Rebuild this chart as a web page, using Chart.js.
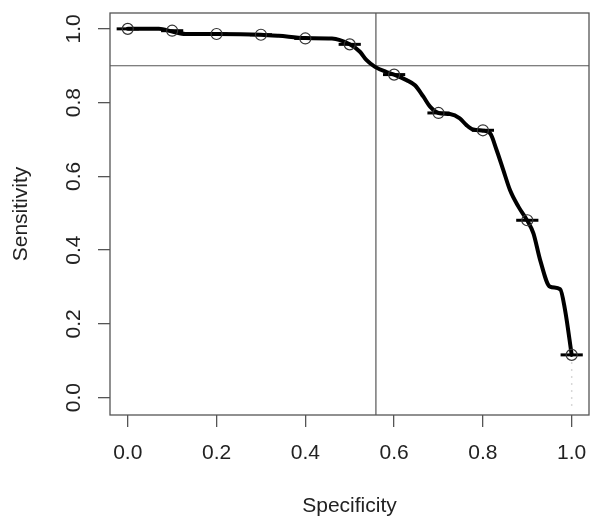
<!DOCTYPE html>
<html>
<head>
<meta charset="utf-8">
<script src="https://cdn.jsdelivr.net/npm/chart.js@4/dist/chart.umd.min.js"></script>
<style>
  html, body { margin: 0; padding: 0; background: #ffffff; }
  #wrap { width: 601px; height: 525px; }
</style>
</head>
<body>
<div id="wrap"><canvas id="c" width="601" height="525"></canvas></div>
<script>
// ---- data ----
const curveSpec = [0, 0.07, 0.10, 0.13, 0.20, 0.30, 0.34, 0.40, 0.46, 0.50, 0.523, 0.538, 0.557, 0.583, 0.60, 0.628, 0.647, 0.666, 0.681, 0.70, 0.726, 0.748, 0.763, 0.778, 0.80, 0.816, 0.831, 0.846, 0.861, 0.88, 0.90, 0.914, 0.929, 0.951, 0.974, 0.985, 1.0];
const curveSens = [1.0, 1.0, 0.993, 0.986, 0.986, 0.984, 0.981, 0.975, 0.974, 0.958, 0.938, 0.915, 0.897, 0.883, 0.876, 0.861, 0.847, 0.816, 0.789, 0.772, 0.769, 0.757, 0.739, 0.727, 0.724, 0.717, 0.671, 0.617, 0.563, 0.518, 0.480, 0.445, 0.373, 0.301, 0.294, 0.238, 0.116];

const pointSpec = [0.0, 0.1, 0.2, 0.3, 0.4, 0.5, 0.6, 0.7, 0.8, 0.9, 1.0];
const pointSens = [1.0, 0.995, 0.986, 0.984, 0.974, 0.958, 0.876, 0.772, 0.725, 0.481, 0.116];
const barLow    = [-0.025, 0.075, 0.175, 0.275, 0.375, 0.475, 0.575, 0.675, 0.775, 0.875, 0.975];
const barHigh   = [0.025, 0.125, 0.225, 0.325, 0.425, 0.525, 0.625, 0.725, 0.825, 0.925, 1.025];

const dottedSpec = [1.0, 1.0];
const dottedSens = [0.116, -0.035];

const cutoffSpec = 0.559;
const cutoffSens = 0.9;

const xTicks = [0.0, 0.2, 0.4, 0.6, 0.8, 1.0];
const yTicks = [0.0, 0.2, 0.4, 0.6, 0.8, 1.0];
const xRange = [-0.04, 1.039];
const yRange = [-0.047, 1.043];

const xTitle = 'Specificity';
const yTitle = 'Sensitivity';

// ---- build datasets ----
const FONT = '"Liberation Sans", Arial, Helvetica, sans-serif';
const zip = (xs, ys) => xs.map((x, i) => ({ x: x, y: ys[i] }));

const datasets = [];
datasets.push({
  label: 'points',
  data: zip(pointSpec, pointSens),
  showLine: false,
  pointStyle: 'circle',
  pointRadius: 5.5,
  pointBorderWidth: 1.2,
  pointBorderColor: '#333333',
  pointBackgroundColor: 'rgba(0,0,0,0)',
  order: 0
});
pointSpec.forEach((s, i) => {
  datasets.push({
    label: 'bar' + i,
    data: [{ x: barLow[i], y: pointSens[i] }, { x: barHigh[i], y: pointSens[i] }],
    showLine: true,
    borderColor: '#000000',
    borderWidth: 3,
    pointRadius: 0,
    order: 1
  });
});
datasets.push({
  label: 'curve',
  data: zip(curveSpec, curveSens),
  showLine: true,
  borderColor: '#000000',
  borderWidth: 4,
  cubicInterpolationMode: 'monotone',
  pointRadius: 0,
  borderCapStyle: 'round',
  borderJoinStyle: 'round',
  order: 2
});
datasets.push({
  label: 'dotted',
  data: zip(dottedSpec, dottedSens),
  showLine: true,
  borderColor: '#d8d8d8',
  borderWidth: 1.5,
  borderDash: [2, 5],
  pointRadius: 0,
  order: 3
});
datasets.push({
  label: 'vline',
  data: [{ x: cutoffSpec, y: yRange[0] }, { x: cutoffSpec, y: yRange[1] }],
  showLine: true,
  borderColor: '#555555',
  borderWidth: 1.2,
  pointRadius: 0,
  order: 4
});
datasets.push({
  label: 'hline',
  data: [{ x: xRange[0], y: cutoffSens }, { x: xRange[1], y: cutoffSens }],
  showLine: true,
  borderColor: '#555555',
  borderWidth: 1.2,
  pointRadius: 0,
  order: 4
});

const boxPlugin = {
  id: 'box',
  afterDatasetsDraw(chart) {
    const a = chart.chartArea, ctx = chart.ctx;
    ctx.save();
    ctx.strokeStyle = '#555555';
    ctx.lineWidth = 1.3;
    ctx.strokeRect(a.left, a.top, a.right - a.left, a.bottom - a.top);
    ctx.restore();
  }
};

new Chart(document.getElementById('c'), {
  type: 'scatter',
  data: { datasets: datasets },
  plugins: [boxPlugin],
  options: {
    responsive: false,
    devicePixelRatio: 1,
    animation: false,
    layout: { padding: { top: 13, right: 12, left: 0, bottom: 0 } },
    plugins: { legend: { display: false }, tooltip: { enabled: false } },
    elements: { line: { tension: 0 } },
    scales: {
      x: {
        type: 'linear',
        min: xRange[0], max: xRange[1],
        afterBuildTicks: (s) => { s.ticks = xTicks.map(v => ({ value: v })); },
        afterFit: (s) => { s.height = 110; s.paddingLeft = 0; s.paddingRight = 0; },
        border: { display: false },
        grid: { drawOnChartArea: false, drawTicks: true, tickLength: 12, color: '#555555', lineWidth: 1.3 },
        ticks: {
          padding: 14,
          color: '#222222',
          font: { family: FONT, size: 21 },
          maxRotation: 0, minRotation: 0,
          callback: (v) => Number(v).toFixed(1)
        },
        title: { display: true, text: xTitle, color: '#222222', font: { family: FONT, size: 21 }, padding: { top: 0, bottom: 6 } }
      },
      y: {
        type: 'linear',
        min: yRange[0], max: yRange[1],
        afterBuildTicks: (s) => { s.ticks = yTicks.map(v => ({ value: v })); },
        afterFit: (s) => { s.width = 110; s.paddingTop = 0; s.paddingBottom = 0; },
        border: { display: false },
        grid: { drawOnChartArea: false, drawTicks: true, tickLength: 12, color: '#555555', lineWidth: 1.3 },
        ticks: {
          padding: 9,
          color: '#222222',
          font: { family: FONT, size: 21 },
          minRotation: 90, maxRotation: 90,
          crossAlign: 'center',
          callback: (v) => Number(v).toFixed(1)
        },
        title: { display: true, text: yTitle, color: '#222222', font: { family: FONT, size: 21 }, padding: { top: 9, bottom: 0 } }
      }
    }
  }
});
</script>
</body>
</html>
